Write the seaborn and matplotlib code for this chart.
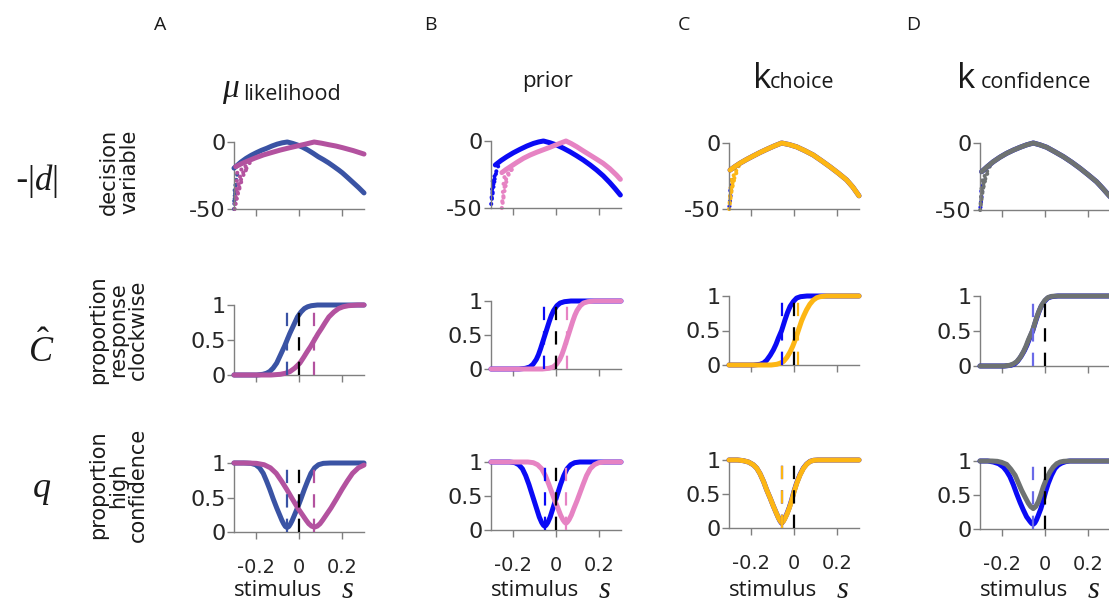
import numpy as np
import pandas as pd
import matplotlib
matplotlib.use("Agg")
import matplotlib.pyplot as plt
import seaborn as sns

sns.set_style("ticks")
plt.rcParams["font.family"] = ["DejaVu Sans"]
plt.rcParams["mathtext.fontset"] = "custom"
plt.rcParams["mathtext.rm"] = "Liberation Serif"
plt.rcParams["mathtext.it"] = "Liberation Serif:italic"

# ---------------- colours ----------------
SLATE = "#3a53a4"
MAGENTA = "#b3529f"
BLUE = "#0a0af5"
PINK = "#e683c3"
GOLD = "#fdb614"
GRAY = "#6e7272"
LAVENDER = "#6a6ae8"

# ---------------- row 1: decision variable -|d| ----------------
dv_A_blue = [(-0.3, -19.5), (-0.292, -18.4), (-0.268, -15.0), (-0.244, -12.2), (-0.22, -9.9),
             (-0.197, -8.0), (-0.173, -6.2), (-0.149, -4.7), (-0.125, -3.0), (-0.101, -1.6),
             (-0.077, -0.6), (-0.054, 0.0), (-0.03, -1.0), (-0.006, -2.3), (0.018, -4.0),
             (0.041, -6.0), (0.065, -8.4), (0.089, -11.0), (0.113, -13.2), (0.137, -15.6),
             (0.16, -18.2), (0.184, -21.0), (0.2, -23.0), (0.225, -26.6), (0.25, -30.3),
             (0.275, -34.0), (0.3, -38.0)]
dv_A_pink = [(-0.292, -18.4), (-0.268, -16.4), (-0.244, -14.7), (-0.205, -12.1), (-0.165, -9.7),
             (-0.125, -7.8), (-0.086, -6.0), (-0.046, -4.4), (-0.006, -2.9), (0.032, -1.5),
             (0.07, 0.0), (0.104, -0.9), (0.137, -2.0), (0.17, -3.0), (0.2, -4.2),
             (0.25, -6.4), (0.3, -9.0)]
dv_B_blue = [(-0.28, -17.9), (-0.254, -14.6), (-0.227, -11.7), (-0.197, -8.8), (-0.166, -6.2),
             (-0.135, -3.8), (-0.104, -1.8), (-0.08, -0.7), (-0.058, 0.0), (-0.028, -1.3),
             (0.003, -3.0), (0.034, -5.4), (0.064, -8.0), (0.095, -11.0), (0.126, -14.2),
             (0.157, -17.8), (0.187, -21.6), (0.218, -26.0), (0.248, -31.0), (0.272, -35.4),
             (0.297, -40.3)]
dv_B_pink = [(-0.25, -23.6), (-0.231, -21.3), (-0.211, -19.2), (-0.18, -15.9), (-0.15, -12.9),
             (-0.12, -10.5), (-0.089, -8.4), (-0.058, -6.5), (-0.028, -4.7), (0.009, -2.3),
             (0.046, 0.0), (0.07, -1.9), (0.095, -4.2), (0.125, -7.3), (0.156, -10.4),
             (0.186, -13.4), (0.217, -16.6), (0.248, -20.6), (0.279, -25.4), (0.297, -28.6)]
dv_C = [(-0.295, -20.5), (-0.272, -17.8), (-0.249, -15.3), (-0.218, -12.4), (-0.188, -9.8),
        (-0.157, -7.2), (-0.126, -4.8), (-0.092, -2.3), (-0.057, 0.0), (-0.022, -1.2),
        (0.012, -2.9), (0.05, -5.8), (0.089, -9.1), (0.127, -13.4), (0.166, -18.0),
        (0.205, -22.9), (0.243, -28.0), (0.272, -33.5), (0.3, -40.0)]
dv_D = [(-0.292, -21.4), (-0.266, -17.6), (-0.239, -14.0), (-0.208, -10.6), (-0.177, -7.7),
        (-0.146, -5.3), (-0.115, -3.2), (-0.085, -1.4), (-0.054, 0.0), (-0.023, -1.4),
        (0.008, -3.2), (0.046, -6.6), (0.085, -10.2), (0.124, -14.4), (0.162, -18.9),
        (0.2, -23.8), (0.238, -28.9), (0.265, -33.6), (0.3, -40.0)]

# short dotted strands at the left end of the decision-variable curves
strands_A_pink = [((-0.297, -50), (-0.285, -40)), ((-0.295, -46), (-0.272, -33)),
                  ((-0.293, -41), (-0.26, -27)), ((-0.29, -35), (-0.245, -21)),
                  ((-0.287, -29), (-0.23, -17)), ((-0.285, -23), (-0.215, -14))]
strands_A_blue = [((-0.3, -50), (-0.295, -38)), ((-0.299, -44), (-0.29, -30)),
                  ((-0.297, -36), (-0.285, -24))]
strands_B_blue = [((-0.299, -47), (-0.29, -36)), ((-0.297, -42), (-0.283, -29)),
                  ((-0.295, -36), (-0.275, -23)), ((-0.292, -30), (-0.265, -18))]
strands_B_pink = [((-0.25, -50), (-0.24, -40)), ((-0.248, -45), (-0.232, -33)),
                  ((-0.245, -38), (-0.222, -27)), ((-0.242, -32), (-0.205, -21)),
                  ((-0.238, -27), (-0.19, -19))]
strands_C_blue = [((-0.298, -48), (-0.29, -36)), ((-0.294, -36), (-0.283, -26))]
strands_C_gold = [((-0.299, -50), (-0.292, -40)), ((-0.297, -45), (-0.285, -33)),
                  ((-0.295, -40), (-0.275, -27)), ((-0.293, -34), (-0.262, -21)),
                  ((-0.29, -28), (-0.25, -16))]
strands_D_blue = [((-0.298, -48), (-0.29, -36)), ((-0.294, -36), (-0.283, -26))]
strands_D_gray = [((-0.299, -50), (-0.292, -40)), ((-0.297, -45), (-0.285, -33)),
                  ((-0.295, -40), (-0.275, -27)), ((-0.293, -34), (-0.262, -21)),
                  ((-0.29, -28), (-0.25, -16))]

# ---------------- row 2: proportion response clockwise ----------------
pc_A_blue = [(-0.3, 0.0), (-0.195, 0.0), (-0.167, 0.01), (-0.15, 0.025), (-0.135, 0.05),
             (-0.119, 0.1), (-0.103, 0.17), (-0.091, 0.25), (-0.079, 0.33), (-0.067, 0.41),
             (-0.055, 0.5), (-0.043, 0.59), (-0.031, 0.67), (-0.019, 0.75), (-0.007, 0.83),
             (0.009, 0.9), (0.025, 0.95), (0.04, 0.975), (0.057, 0.99), (0.085, 1.0), (0.3, 1.0)]
pc_A_pink = [(-0.3, 0.0), (-0.129, 0.0), (-0.086, 0.01), (-0.062, 0.025), (-0.041, 0.05),
             (-0.019, 0.1), (0.004, 0.17), (0.021, 0.25), (0.037, 0.33), (0.054, 0.41),
             (0.071, 0.5), (0.088, 0.59), (0.105, 0.67), (0.121, 0.75), (0.138, 0.83),
             (0.161, 0.9), (0.183, 0.95), (0.204, 0.975), (0.228, 0.99), (0.271, 1.0), (0.3, 1.0)]
pc_B_blue = [(-0.3, 0.0), (-0.171, 0.0), (-0.141, 0.01), (-0.121, 0.03), (-0.106, 0.07),
             (-0.091, 0.14), (-0.081, 0.21), (-0.071, 0.3), (-0.061, 0.4), (-0.051, 0.5),
             (-0.041, 0.6), (-0.031, 0.7), (-0.021, 0.79), (-0.011, 0.86), (0.004, 0.93),
             (0.019, 0.97), (0.039, 0.99), (0.069, 1.0), (0.3, 1.0)]
pc_B_pink = [(-0.3, 0.0), (-0.063, 0.0), (-0.033, 0.01), (-0.013, 0.03), (0.002, 0.07),
             (0.017, 0.14), (0.027, 0.21), (0.037, 0.3), (0.047, 0.4), (0.057, 0.5),
             (0.067, 0.6), (0.077, 0.7), (0.087, 0.79), (0.097, 0.86), (0.112, 0.93),
             (0.127, 0.97), (0.147, 0.99), (0.177, 1.0), (0.3, 1.0)]
pc_C_blue = [(-0.3, 0.0), (-0.187, 0.0), (-0.157, 0.01), (-0.14, 0.03), (-0.126, 0.07),
             (-0.11, 0.14), (-0.095, 0.22), (-0.083, 0.3), (-0.072, 0.39), (-0.057, 0.5),
             (-0.042, 0.65), (-0.03, 0.76), (-0.018, 0.85), (-0.003, 0.92), (0.012, 0.97),
             (0.03, 0.99), (0.06, 1.0), (0.3, 1.0)]
pc_C_gold = [(-0.3, 0.0), (-0.105, 0.0), (-0.08, 0.01), (-0.065, 0.025), (-0.049, 0.05),
             (-0.033, 0.11), (-0.018, 0.19), (-0.006, 0.27), (0.005, 0.36), (0.02, 0.5),
             (0.035, 0.64), (0.046, 0.72), (0.058, 0.8), (0.073, 0.88), (0.089, 0.94),
             (0.105, 0.975), (0.12, 0.99), (0.15, 1.0), (0.3, 1.0)]
pc_D_blue = [(-0.3, 0.0), (-0.187, 0.0), (-0.157, 0.01), (-0.14, 0.03), (-0.126, 0.07),
             (-0.11, 0.14), (-0.095, 0.22), (-0.083, 0.3), (-0.072, 0.39), (-0.057, 0.5),
             (-0.042, 0.65), (-0.03, 0.76), (-0.018, 0.85), (-0.003, 0.92), (0.012, 0.97),
             (0.03, 0.99), (0.06, 1.0), (0.3, 1.0)]
pc_D_gray = [(-0.3, 0.0), (-0.19, 0.0), (-0.162, 0.01), (-0.146, 0.03), (-0.131, 0.06),
             (-0.115, 0.12), (-0.1, 0.2), (-0.088, 0.28), (-0.077, 0.37), (-0.057, 0.51),
             (-0.038, 0.7), (-0.027, 0.79), (-0.015, 0.87), (0.0, 0.94), (0.015, 0.98),
             (0.032, 0.995), (0.06, 1.0), (0.3, 1.0)]

# ---------------- row 3: proportion high confidence ----------------
cf_A_blue = [(-0.3, 1.0), (-0.255, 1.0), (-0.222, 0.995), (-0.2, 0.975), (-0.182, 0.93),
             (-0.165, 0.85), (-0.15, 0.74), (-0.135, 0.62), (-0.119, 0.48), (-0.103, 0.35),
             (-0.087, 0.23), (-0.079, 0.17), (-0.071, 0.12), (-0.063, 0.08), (-0.055, 0.065),
             (-0.047, 0.08), (-0.039, 0.12), (-0.031, 0.17), (-0.023, 0.23), (-0.007, 0.35),
             (0.009, 0.48), (0.025, 0.62), (0.04, 0.74), (0.055, 0.85), (0.072, 0.93),
             (0.09, 0.975), (0.112, 0.995), (0.145, 1.0), (0.3, 1.0)]
cf_A_pink = [(-0.3, 1.0), (-0.24, 1.0), (-0.196, 0.995), (-0.161, 0.975), (-0.132, 0.93),
             (-0.105, 0.85), (-0.081, 0.74), (-0.057, 0.62), (-0.031, 0.48), (-0.006, 0.35),
             (0.02, 0.23), (0.033, 0.17), (0.045, 0.12), (0.058, 0.085), (0.071, 0.07),
             (0.084, 0.085), (0.097, 0.12), (0.109, 0.17), (0.122, 0.23), (0.148, 0.35),
             (0.173, 0.48), (0.199, 0.62), (0.223, 0.74), (0.247, 0.85), (0.274, 0.93),
             (0.3, 0.97)]
cf_B_blue = [(-0.3, 1.0), (-0.215, 1.0), (-0.19, 0.99), (-0.172, 0.96), (-0.155, 0.9),
             (-0.14, 0.8), (-0.125, 0.67), (-0.112, 0.54), (-0.1, 0.42), (-0.088, 0.3),
             (-0.077, 0.19), (-0.066, 0.11), (-0.058, 0.07), (-0.052, 0.055), (-0.046, 0.07),
             (-0.038, 0.11), (-0.027, 0.19), (-0.016, 0.3), (-0.004, 0.42), (0.008, 0.54),
             (0.021, 0.67), (0.036, 0.8), (0.051, 0.9), (0.068, 0.96), (0.086, 0.99),
             (0.11, 1.0), (0.3, 1.0)]
cf_B_pink = [(-0.3, 1.0), (-0.13, 1.0), (-0.105, 0.99), (-0.085, 0.96), (-0.066, 0.9),
             (-0.049, 0.8), (-0.033, 0.67), (-0.019, 0.55), (-0.005, 0.43), (0.009, 0.32),
             (0.021, 0.22), (0.032, 0.15), (0.04, 0.115), (0.046, 0.1), (0.052, 0.115),
             (0.06, 0.15), (0.071, 0.22), (0.083, 0.32), (0.097, 0.43), (0.111, 0.55),
             (0.125, 0.67), (0.141, 0.8), (0.158, 0.9), (0.177, 0.96), (0.197, 0.99),
             (0.222, 1.0), (0.3, 1.0)]
cf_C_blue = [(-0.3, 1.0), (-0.26, 1.0), (-0.234, 0.99), (-0.21, 0.97), (-0.188, 0.93),
             (-0.172, 0.88), (-0.157, 0.8), (-0.14, 0.68), (-0.126, 0.56), (-0.11, 0.44),
             (-0.095, 0.32), (-0.083, 0.23), (-0.072, 0.15), (-0.064, 0.1), (-0.057, 0.07),
             (-0.05, 0.1), (-0.043, 0.14), (-0.034, 0.2), (-0.022, 0.3), (-0.011, 0.41),
             (0.0, 0.54), (0.012, 0.66), (0.027, 0.78), (0.043, 0.88), (0.058, 0.94),
             (0.074, 0.98), (0.09, 0.995), (0.11, 1.0), (0.3, 1.0)]
cf_C_gold = [(-0.3, 1.0), (-0.26, 1.0), (-0.234, 0.99), (-0.21, 0.97), (-0.188, 0.93),
             (-0.172, 0.88), (-0.157, 0.8), (-0.14, 0.68), (-0.126, 0.56), (-0.11, 0.44),
             (-0.095, 0.32), (-0.083, 0.23), (-0.072, 0.15), (-0.063, 0.1), (-0.056, 0.075),
             (-0.049, 0.1), (-0.042, 0.14), (-0.033, 0.2), (-0.021, 0.3), (-0.01, 0.41),
             (0.001, 0.54), (0.013, 0.66), (0.028, 0.78), (0.044, 0.88), (0.059, 0.94),
             (0.075, 0.98), (0.091, 0.995), (0.11, 1.0), (0.3, 1.0)]
cf_D_blue = [(-0.3, 1.0), (-0.265, 1.0), (-0.238, 0.985), (-0.214, 0.96), (-0.192, 0.91),
             (-0.177, 0.85), (-0.162, 0.77), (-0.146, 0.65), (-0.131, 0.52), (-0.115, 0.39),
             (-0.1, 0.28), (-0.085, 0.18), (-0.069, 0.11), (-0.061, 0.08), (-0.054, 0.07),
             (-0.047, 0.09), (-0.04, 0.13), (-0.031, 0.2), (-0.019, 0.3), (-0.008, 0.42),
             (0.003, 0.55), (0.015, 0.67), (0.03, 0.79), (0.046, 0.89), (0.061, 0.94),
             (0.077, 0.97), (0.095, 0.99), (0.115, 1.0), (0.3, 1.0)]
cf_D_gray = [(-0.3, 1.0), (-0.245, 1.0), (-0.22, 0.995), (-0.2, 0.98), (-0.177, 0.95),
             (-0.158, 0.88), (-0.138, 0.79), (-0.123, 0.68), (-0.108, 0.57), (-0.092, 0.47),
             (-0.077, 0.38), (-0.066, 0.33), (-0.054, 0.3), (-0.043, 0.33), (-0.031, 0.4),
             (-0.02, 0.5), (-0.008, 0.62), (0.007, 0.74), (0.023, 0.84), (0.038, 0.91),
             (0.054, 0.96), (0.07, 0.985), (0.085, 0.995), (0.11, 1.0), (0.3, 1.0)]

# vertical markers: response-bias points and confidence minima
pse = {"A": [(-0.055, SLATE), (0.071, MAGENTA)], "B": [(-0.055, BLUE), (0.049, PINK)],
       "C": [(-0.057, BLUE), (0.02, GOLD)], "D": [(-0.054, LAVENDER)]}
cmin = {"A": [(-0.055, SLATE), (0.071, MAGENTA)], "B": [(-0.052, BLUE), (0.046, PINK)],
        "C": [(-0.057, BLUE), (-0.054, GOLD)], "D": [(-0.054, LAVENDER)]}

column_titles = ["likelihood", "prior", "choice", "confidence"]
panel_letters = ["A", "B", "C", "D"]
x_ticks = [-0.2, 0.0, 0.2]
x_ticklabels = ["-0.2", "0", "0.2"]

W, H = 1109, 606
fig = plt.figure(figsize=(W / 100, H / 100), dpi=100)

col_left = {"A": 234, "B": 491, "C": 729, "D": 980}
col_width = 130
row_span = {
    0: {"A": (142, 209), "B": (141, 208), "C": (143, 209), "D": (143, 210)},
    1: {"A": (305, 375), "B": (301, 369), "C": (296, 365), "D": (296, 366)},
    2: {"A": (463, 532), "B": (462, 530), "C": (460, 528), "D": (461, 529)},
}
SPINE = "#7f7f7f"


def make_axes(col, row):
    top, bot = row_span[row][col]
    ax = fig.add_axes([col_left[col] / W, 1 - bot / H, col_width / W, (bot - top) / H])
    sns.despine(ax=ax)
    for sp in ("left", "bottom"):
        ax.spines[sp].set_color(SPINE)
        ax.spines[sp].set_linewidth(1.0)
    ax.tick_params(colors=SPINE, labelcolor="#262626", direction="out", length=5, width=1)
    ax.tick_params(axis="y", pad=1, labelsize=16)
    ax.tick_params(axis="x", pad=14, labelsize=14)
    ax.set_xlim(-0.3, 0.3)
    ax.set_xticks(x_ticks)
    return ax


def finish(ax):
    ax.set_xlabel("")
    ax.set_ylabel("")


def curve(ax, pts, color, lw=3.6, z=3):
    df = pd.DataFrame(pts, columns=["s", "v"])
    sns.lineplot(data=df, x="s", y="v", ax=ax, color=color, linewidth=lw, sort=False,
                 estimator=None, legend=False, zorder=z, solid_capstyle="round",
                 solid_joinstyle="round", clip_on=False)


def strands(ax, segs, color, z=2):
    for (s0, v0), (s1, v1) in segs:
        df = pd.DataFrame({"s": [s0, s1], "v": [v0, v1]})
        sns.lineplot(data=df, x="s", y="v", ax=ax, color=color, linewidth=3.0, sort=False,
                     estimator=None, legend=False, zorder=z, linestyle=(0, (0.01, 1.25)),
                     dash_capstyle="round", clip_on=False)


def markers(ax, items):
    for s0, c in items:
        df = pd.DataFrame({"s": [s0, s0], "v": [0.0, 1.0]})
        sns.lineplot(data=df, x="s", y="v", ax=ax, color=c, linewidth=1.6, sort=False,
                     estimator=None, legend=False, zorder=4, linestyle=(0, (6, 5)),
                     clip_on=False)


dv_series = {"A": [(dv_A_blue, SLATE), (dv_A_pink, MAGENTA)],
             "B": [(dv_B_blue, BLUE), (dv_B_pink, PINK)],
             "C": [(dv_C, BLUE), (dv_C, GOLD)],
             "D": [(dv_D, BLUE), (dv_D, GRAY)]}
dv_strands = {"A": [(strands_A_blue, SLATE), (strands_A_pink, MAGENTA)],
              "B": [(strands_B_blue, BLUE), (strands_B_pink, PINK)],
              "C": [(strands_C_blue, BLUE), (strands_C_gold, GOLD)],
              "D": [(strands_D_blue, BLUE), (strands_D_gray, GRAY)]}
pc_series = {"A": [(pc_A_blue, SLATE), (pc_A_pink, MAGENTA)],
             "B": [(pc_B_blue, BLUE), (pc_B_pink, PINK)],
             "C": [(pc_C_blue, BLUE), (pc_C_gold, GOLD)],
             "D": [(pc_D_blue, BLUE), (pc_D_gray, GRAY)]}
cf_series = {"A": [(cf_A_blue, SLATE), (cf_A_pink, MAGENTA)],
             "B": [(cf_B_blue, BLUE), (cf_B_pink, PINK)],
             "C": [(cf_C_blue, BLUE), (cf_C_gold, GOLD)],
             "D": [(cf_D_blue, BLUE), (cf_D_gray, GRAY)]}

for col in panel_letters:
    # decision variable
    ax = make_axes(col, 0)
    for segs, c in dv_strands[col]:
        strands(ax, segs, c)
    for pts, c in dv_series[col]:
        curve(ax, pts, c)
    ax.set_ylim(-50, 0)
    ax.set_yticks([-50, 0])
    ax.set_yticklabels(["-50", "0"])
    ax.set_xticklabels([])
    finish(ax)

    # proportion clockwise
    ax = make_axes(col, 1)
    for pts, c in pc_series[col]:
        curve(ax, pts, c)
    markers(ax, pse[col] + [(0.0, "black")])
    ax.set_ylim(0, 1)
    ax.set_yticks([0, 0.5, 1])
    ax.set_yticklabels(["0", "0.5", "1"])
    ax.set_xticklabels([])
    finish(ax)

    # proportion high confidence
    ax = make_axes(col, 2)
    for pts, c in cf_series[col]:
        curve(ax, pts, c)
    markers(ax, cmin[col] + [(0.0, "black")])
    ax.set_ylim(0, 1)
    ax.set_yticks([0, 0.5, 1])
    ax.set_yticklabels(["0", "0.5", "1"])
    ax.set_xticklabels(x_ticklabels)
    finish(ax)

    left = col_left[col]
    fig.text((left + 44) / W, 1 - 590 / H, "stimulus", ha="center", va="center",
             fontsize=16, family="Open Sans", color="#1a1a1a")
    fig.text((left + 113) / W, 1 - 598 / H, "$s$", ha="center", va="baseline",
             fontsize=22, color="#1a1a1a")


def ftext(x, y, s, **kw):
    kw.setdefault("color", "#1a1a1a")
    fig.text(x / W, 1 - y / H, s, **kw)


# panel letters
for letter, x in zip(panel_letters, [160, 430, 684, 913]):
    ftext(x, 25, letter, ha="center", va="center", fontsize=14, family="Open Sans")

# column titles
ftext(231, 97, r"$\mu$", ha="center", va="baseline", fontsize=24)
ftext(292, 100, column_titles[0], ha="center", va="baseline", fontsize=15.5, family="Open Sans")
ftext(548, 87, column_titles[1], ha="center", va="baseline", fontsize=16, family="Open Sans")
ftext(762, 88, "k", ha="center", va="baseline", fontsize=25, family="Open Sans")
ftext(802, 88, column_titles[2], ha="center", va="baseline", fontsize=15.5, family="Open Sans")
ftext(966, 88, "k", ha="center", va="baseline", fontsize=25, family="Open Sans")
ftext(1036, 88, column_titles[3], ha="center", va="baseline", fontsize=15.5, family="Open Sans")

# row symbols and descriptions
ftext(37, 181, "-$|d|$", ha="center", va="center", fontsize=25)
ftext(41, 350, r"$\hat{C}$", ha="center", va="center", fontsize=26)
ftext(42, 490, "$q$", ha="center", va="center", fontsize=26)
ftext(119, 172, "decision\nvariable", ha="center", va="center", rotation=90,
      fontsize=15, linespacing=1.0)
ftext(118, 330, "proportion\nresponse\nclockwise", ha="center", va="center", rotation=90,
      fontsize=15, linespacing=1.0)
ftext(118, 485, "proportion\nhigh\nconfidence", ha="center", va="center", rotation=90,
      fontsize=15, linespacing=1.0)

fig.savefig("out.png", dpi=100)
